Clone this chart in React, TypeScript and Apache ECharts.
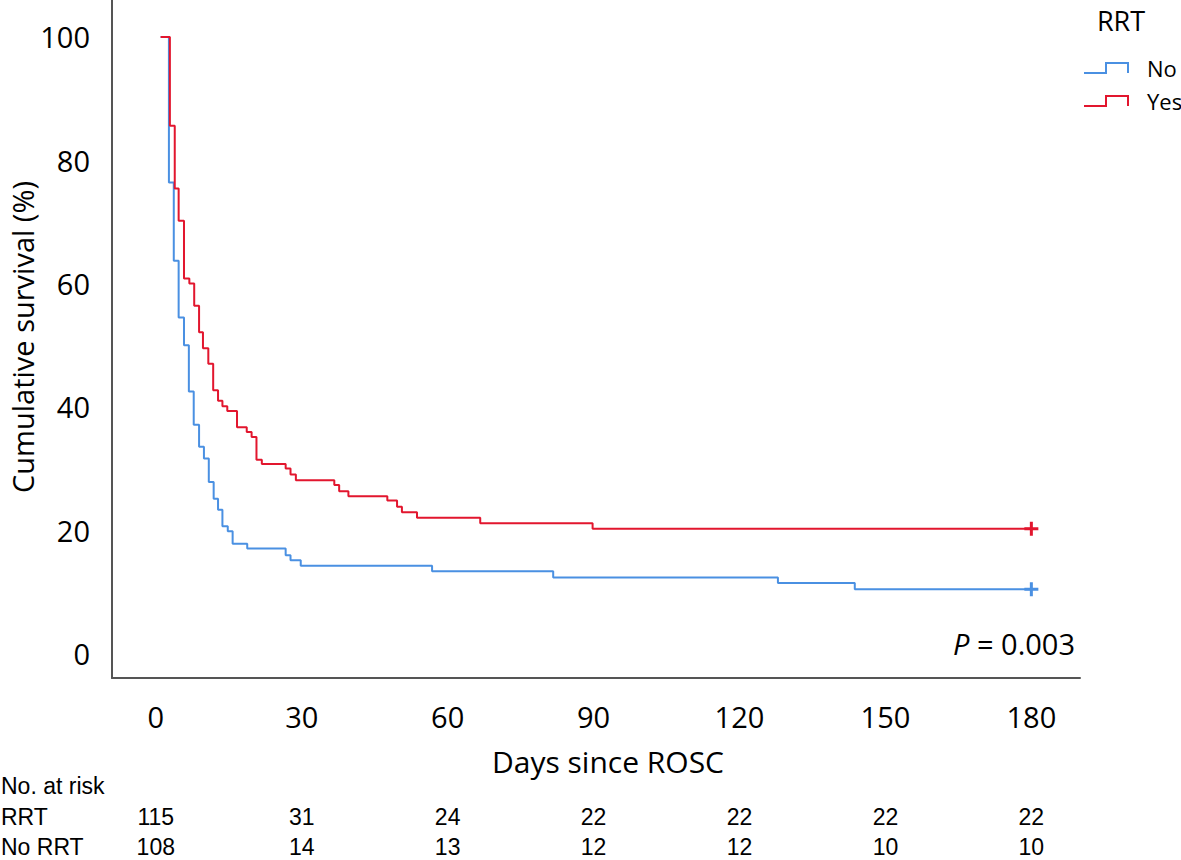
import React, { useEffect, useRef } from "react";
import * as echarts from "echarts";

// Kaplan-Meier step points: day of event and survival (%) after it
const noDays = [1, 2.7, 3.7, 4.7, 5.8, 6.8, 7.8, 8.9, 9.9, 10.9, 11.9, 12.8, 13.7, 14.8, 15.8, 18.8, 26.7, 27.7, 29.8, 56.8, 81.7, 127.9, 143.7, 180];
const noSurv = [100, 76.4, 63.7, 54.5, 50.0, 42.5, 37.1, 33.5, 31.6, 27.8, 25.1, 23.3, 20.6, 19.8, 17.8, 17.0, 15.9, 15.1, 14.2, 13.3, 12.3, 11.4, 10.4, 10.4];
const yesDays = [1, 2.9, 3.9, 4.7, 5.8, 6.9, 7.9, 8.9, 9.7, 10.8, 11.8, 12.8, 13.7, 14.7, 16.7, 18.7, 19.7, 20.7, 21.8, 26.7, 27.7, 28.8, 36.7, 37.7, 39.6, 47.6, 49.6, 50.6, 53.7, 66.7, 89.8, 180];
const yesSurv = [100, 85.6, 75.4, 70.2, 60.8, 60.0, 56.4, 52.1, 49.5, 47.0, 42.7, 41.0, 40.1, 39.3, 36.7, 35.9, 35.1, 31.4, 30.7, 30.0, 29.0, 28.1, 27.3, 26.3, 25.5, 24.8, 23.8, 22.9, 22.0, 21.1, 20.2, 20.2];

const xTicks = [0, 30, 60, 90, 120, 150, 180];
const yTicks = [0, 20, 40, 60, 80, 100];
const riskDays = [0, 30, 60, 90, 120, 150, 180];
const riskRRT = [115, 31, 24, 22, 22, 22, 22];
const riskNoRRT = [108, 14, 13, 12, 12, 10, 10];
const riskLabels = ["No. at risk", "RRT", "No RRT"];

const BLUE = "#4A90E2";
const RED = "#E2162E";
const FONT = "'Open Sans', sans-serif";
const TABLE_FONT = "'Liberation Sans', Arial, sans-serif";
const CROSS = "path://M5.5,0h3v5.5h5.5v3h-5.5v5.5h-3v-5.5h-5.5v-3h5.5z";
const STEP_ICON = "path://M0,10L22,10L22,0L44,0L44,10";

function buildData(days: number[], surv: number[]) {
  return days.map((d, i) =>
    i === days.length - 1
      ? { value: [d, surv[i]], symbol: CROSS, symbolSize: 14 }
      : { value: [d, surv[i]] }
  );
}

function isTick(v: number, ticks: number[]) {
  return ticks.some((t) => Math.abs(t - v) < 1e-6);
}

export default function App() {
  const ref = useRef<HTMLDivElement>(null);
  useEffect(() => {
    if (!ref.current) return;
    const chart = echarts.init(ref.current, null, { renderer: "svg" });
    const option: any = {
      animation: false,
      backgroundColor: "#ffffff",
      grid: { left: 112, right: 101, top: 0, bottom: 182, containLabel: false, outerBoundsMode: "none" },
      xAxis: {
        type: "value",
        min: -9,
        max: 190,
        interval: 3,
        name: "Days since ROSC",
        nameLocation: "middle",
        nameGap: 68,
        nameTextStyle: { fontFamily: FONT, fontSize: 30, color: "#000", padding: [0, 0, 0, 24] },
        axisLine: { show: true, onZero: false, lineStyle: { color: "#555", width: 2 } },
        axisTick: { show: false },
        splitLine: { show: false },
        axisLabel: {
          interval: 0,
          margin: 24,
          fontFamily: FONT,
          fontSize: 29,
          color: "#000",
          formatter: (v: number) => (isTick(v, xTicks) ? String(Math.round(v)) : ""),
        },
      },
      yAxis: {
        type: "value",
        min: -4,
        max: 106,
        interval: 2,
        axisLine: { show: true, onZero: false, lineStyle: { color: "#555", width: 2 } },
        axisTick: { show: false },
        splitLine: { show: false },
        axisLabel: {
          interval: 0,
          margin: 22,
          fontFamily: FONT,
          fontSize: 29,
          color: "#000",
          formatter: (v: number) => (isTick(v, yTicks) ? String(Math.round(v)) : ""),
        },
      },
      legend: {
        orient: "vertical",
        left: 1083,
        top: 57,
        padding: 0,
        itemWidth: 44,
        itemHeight: 10,
        itemGap: 11,
        selectedMode: false,
        textStyle: { fontFamily: FONT, fontSize: 22, lineHeight: 22, color: "#000", padding: [0, 0, 0, 14] },
        data: [
          { name: "No", icon: STEP_ICON, itemStyle: { color: "rgba(0,0,0,0)", borderColor: BLUE, borderWidth: 2 } },
          { name: "Yes", icon: STEP_ICON, itemStyle: { color: "rgba(0,0,0,0)", borderColor: RED, borderWidth: 2 } },
        ],
      },
      series: [
        {
          name: "No",
          type: "line",
          step: "end",
          symbol: "none",
          color: BLUE,
          lineStyle: { color: BLUE, width: 2 },
          itemStyle: { color: BLUE },
          data: buildData(noDays, noSurv),
        },
        {
          name: "Yes",
          type: "line",
          step: "end",
          symbol: "none",
          color: RED,
          lineStyle: { color: RED, width: 2 },
          itemStyle: { color: RED },
          data: buildData(yesDays, yesSurv),
        },
      ],
    };
    chart.setOption(option);

    const elements: any[] = [
      {
        type: "text",
        x: 22,
        y: 337,
        rotation: Math.PI / 2,
        style: { text: "Cumulative survival (%)", fontFamily: FONT, fontSize: 29, fill: "#000", align: "center", verticalAlign: "middle" },
      },
      {
        type: "text",
        x: 1121,
        y: 20,
        style: { text: "RRT", fontFamily: FONT, fontSize: 27, fill: "#000", align: "center", verticalAlign: "middle" },
      },
      {
        type: "text",
        x: 1075,
        y: 643,
        style: {
          text: "{i|P} = 0.003",
          fontFamily: FONT,
          fontSize: 29,
          fill: "#000",
          align: "right",
          verticalAlign: "middle",
          rich: { i: { fontStyle: "italic", fontFamily: FONT, fontSize: 29, fill: "#000" } },
        },
      },
    ];
    const rowY = [786, 817, 847];
    riskLabels.forEach((lab, i) => {
      elements.push({
        type: "text",
        x: 1,
        y: rowY[i],
        style: { text: lab, fontFamily: TABLE_FONT, fontSize: 23, fill: "#000", align: "left", verticalAlign: "middle" },
      });
    });
    riskDays.forEach((d, j) => {
      const px = chart.convertToPixel({ xAxisIndex: 0 }, d) as number;
      [riskRRT, riskNoRRT].forEach((row, r) => {
        elements.push({
          type: "text",
          x: px,
          y: rowY[r + 1],
          style: { text: String(row[j]), fontFamily: TABLE_FONT, fontSize: 23, fill: "#000", align: "center", verticalAlign: "middle" },
        });
      });
    });
    chart.setOption({ graphic: { elements } });

    return () => chart.dispose();
  }, []);
  return <div ref={ref} style={{ position: "absolute", left: 0, top: 0, width: 1181, height: 860 }} />;
}
